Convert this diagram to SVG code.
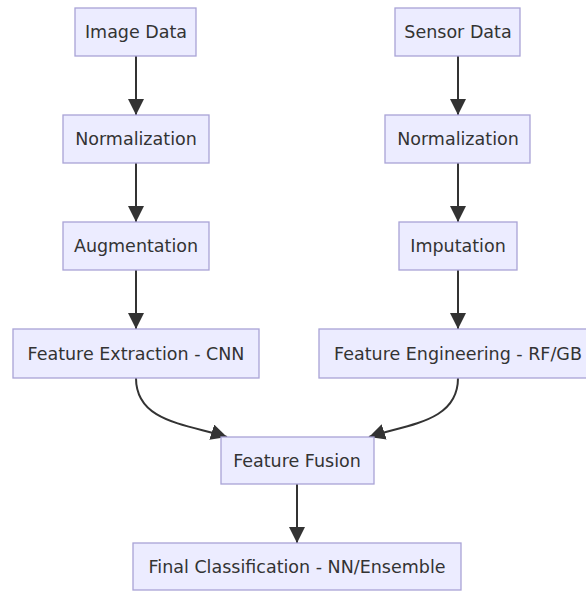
<svg xmlns="http://www.w3.org/2000/svg" width="586" height="591" viewBox="0 0 586 591">
<style>
.node rect{fill:#ECECFF;stroke:#a9a3d6;stroke-width:1.3}
.node text{font-family:"DejaVu Sans",Verdana,sans-serif;font-size:17.5px;fill:#333;text-anchor:middle}
.edge{fill:none;stroke:#333;stroke-width:2}
</style>
<defs>
<marker id="arr" markerUnits="userSpaceOnUse" markerWidth="16" markerHeight="16" refX="16" refY="8" orient="auto">
<path d="M0,0 L16,8 L0,16 z" fill="#333"/>
</marker>
</defs>
<rect width="586" height="591" fill="#fff"/>
<g id="edges">
<path class="edge" d="M136,56 L136,115" marker-end="url(#arr)"/>
<path class="edge" d="M136,163 L136,222" marker-end="url(#arr)"/>
<path class="edge" d="M136,270 L136,329" marker-end="url(#arr)"/>
<path class="edge" d="M458,56 L458,115" marker-end="url(#arr)"/>
<path class="edge" d="M458,163 L458,222" marker-end="url(#arr)"/>
<path class="edge" d="M458,270 L458,329" marker-end="url(#arr)"/>
<path class="edge" d="M136,378 C136,422 186,424 227,437" marker-end="url(#arr)"/>
<path class="edge" d="M458,378 C458,422 408,424 369,437" marker-end="url(#arr)"/>
<path class="edge" d="M297,484 L297,543" marker-end="url(#arr)"/>
</g>
<g id="imageData" class="node"><rect x="75" y="8" width="121" height="48"/><text x="136" y="38">Image Data</text></g>
<g id="sensorData" class="node"><rect x="395" y="8" width="125" height="48"/><text x="458" y="38">Sensor Data</text></g>
<g id="normA" class="node"><rect x="63" y="115" width="146" height="48"/><text x="136" y="145">Normalization</text></g>
<g id="normB" class="node"><rect x="385" y="115" width="145" height="48"/><text x="458" y="145">Normalization</text></g>
<g id="augmentation" class="node"><rect x="63" y="222" width="146" height="48"/><text x="136" y="252">Augmentation</text></g>
<g id="imputation" class="node"><rect x="399" y="222" width="118" height="48"/><text x="458" y="252">Imputation</text></g>
<g id="featExtraction" class="node"><rect x="13" y="329" width="246" height="49"/><text x="136" y="360">Feature Extraction - CNN</text></g>
<g id="featEngineering" class="node"><rect x="319" y="329" width="278" height="49"/><text x="458" y="360">Feature Engineering - RF/GB</text></g>
<g id="featFusion" class="node"><rect x="221" y="437" width="153" height="47"/><text x="297" y="467">Feature Fusion</text></g>
<g id="finalClass" class="node"><rect x="133" y="543" width="328" height="47"/><text x="297" y="573">Final Classification - NN/Ensemble</text></g>
</svg>
